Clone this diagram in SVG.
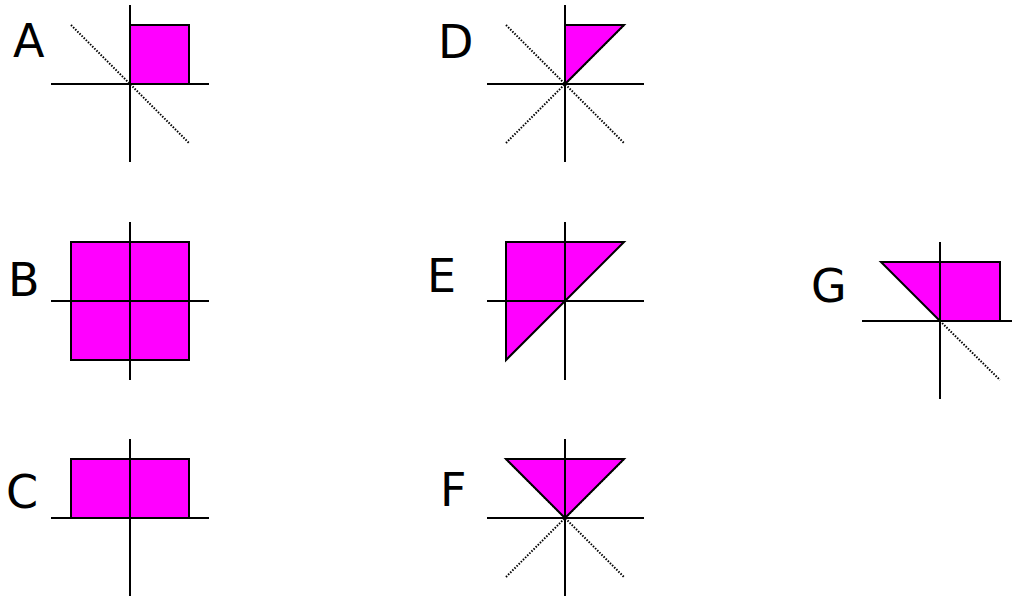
<svg xmlns="http://www.w3.org/2000/svg" width="1012" height="598" viewBox="0 0 1012 598">
<style>
.ax{stroke:#000;stroke-width:2;fill:none}
.dt{stroke:#000;stroke-width:2;stroke-dasharray:1.5,1.5;fill:none}
.sh{fill:#ff00ff;stroke:#000;stroke-width:2;stroke-linejoin:miter}
.lb{font-family:"DejaVu Sans",sans-serif;font-size:46px;fill:#000}
</style>
<rect width="1012" height="598" fill="#fff"/>
<g id="A">
<line class="dt" x1="71" y1="25" x2="189" y2="143"/>
<rect class="sh" x="130" y="25" width="59" height="59"/>
<line class="ax" x1="130" y1="5" x2="130" y2="162"/>
<line class="ax" x1="51" y1="84" x2="209" y2="84"/>
<text class="lb" x="13" y="57">A</text>
</g>
<g id="B">
<rect class="sh" x="71" y="242" width="118" height="118"/>
<line class="ax" x1="130" y1="222" x2="130" y2="380"/>
<line class="ax" x1="51" y1="301" x2="209" y2="301"/>
<text class="lb" x="8" y="296">B</text>
</g>
<g id="C">
<rect class="sh" x="71" y="459" width="118" height="59"/>
<line class="ax" x1="130" y1="439" x2="130" y2="596"/>
<line class="ax" x1="51" y1="518" x2="209" y2="518"/>
<text class="lb" x="6" y="508">C</text>
</g>
<g id="D">
<line class="dt" x1="506" y1="25" x2="624" y2="143"/>
<line class="dt" x1="506" y1="143" x2="624" y2="25"/>
<polygon class="sh" points="565,25 624,25 565,84"/>
<line class="ax" x1="565" y1="5" x2="565" y2="162"/>
<line class="ax" x1="487" y1="84" x2="644" y2="84"/>
<text class="lb" x="438" y="58">D</text>
</g>
<g id="E">
<polygon class="sh" points="506,242 624,242 506,360"/>
<line class="ax" x1="565" y1="222" x2="565" y2="380"/>
<line class="ax" x1="487" y1="301" x2="644" y2="301"/>
<text class="lb" x="427" y="292">E</text>
</g>
<g id="F">
<line class="dt" x1="506" y1="577" x2="624" y2="459"/>
<line class="dt" x1="506" y1="459" x2="624" y2="577"/>
<polygon class="sh" points="506,459 624,459 565,518"/>
<line class="ax" x1="565" y1="439" x2="565" y2="596"/>
<line class="ax" x1="487" y1="518" x2="644" y2="518"/>
<text class="lb" x="440" y="506">F</text>
</g>
<g id="G">
<line class="dt" x1="940" y1="321" x2="1000" y2="380"/>
<polygon class="sh" points="881,262 1000,262 1000,321 940,321"/>
<line class="ax" x1="940" y1="242" x2="940" y2="399"/>
<line class="ax" x1="862" y1="321" x2="1019" y2="321"/>
<text class="lb" x="811" y="302">G</text>
</g>
<g id="connectors"></g>
</svg>
